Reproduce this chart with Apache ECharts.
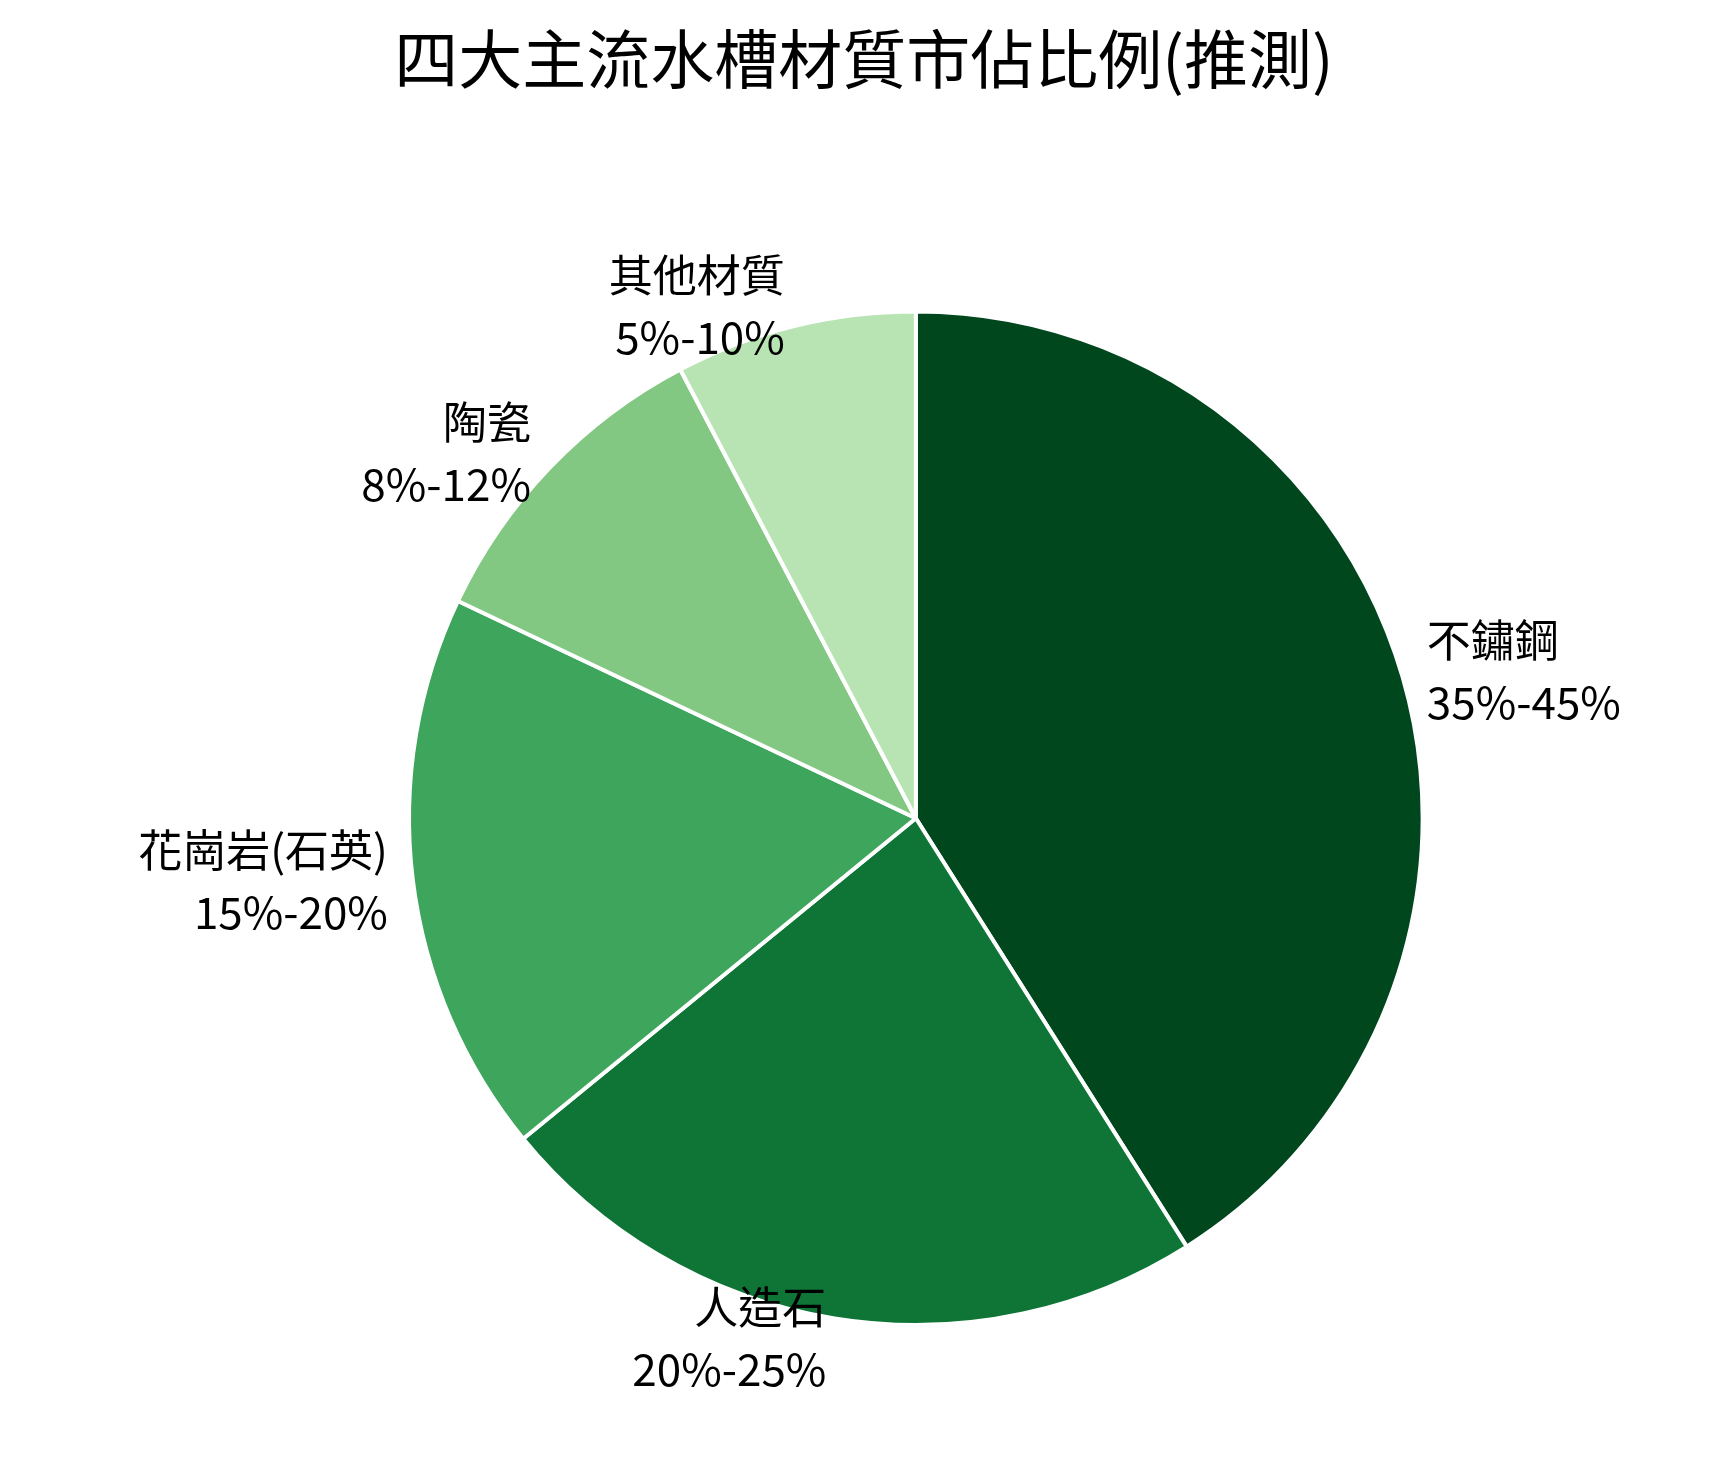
<!DOCTYPE html>
<html><head><meta charset="utf-8">
<script src="https://cdn.jsdelivr.net/npm/echarts@6/dist/echarts.min.js"></script>
<style>html,body{margin:0;background:#fff}#c{width:1728px;height:1469px}</style>
</head><body><div id="c"></div>
<script>
const categories = ['不鏽鋼','人造石','花崗岩(石英)','陶瓷','其他材質'];
const rangeLabels = ['35%-45%','20%-25%','15%-20%','8%-12%','5%-10%'];
const values = [40, 22.5, 17.5, 10, 7.5];
const colors = ['#00471e','#0e7536','#3ea55c','#83c882','#b8e3b3'];
const chart = echarts.init(document.getElementById('c'));
chart.setOption({
  title:{text:'四大主流水槽材質市佔比例(推測)',left:'center',top:22,
    textStyle:{fontFamily:'Noto Sans CJK TC',fontSize:64,fontWeight:'normal',color:'#000'}},
  series:[{
    type:'pie',center:['53%','55.7%'],radius:'69%',startAngle:90,clockwise:true,
    data:categories.map((c,i)=>({name:c,value:values[i],range:rangeLabels[i],itemStyle:{color:colors[i]}})),
    itemStyle:{borderColor:'#fff',borderWidth:4},
    label:{show:true,position:'outside',formatter:p=>p.name+'\n'+p.data.range,
      fontFamily:'Noto Sans CJK TC',fontSize:44,lineHeight:62,color:'#000'},
    labelLine:{show:false,length:20,length2:0},
    emphasis:{disabled:true}
  }]
});
</script></body></html>
